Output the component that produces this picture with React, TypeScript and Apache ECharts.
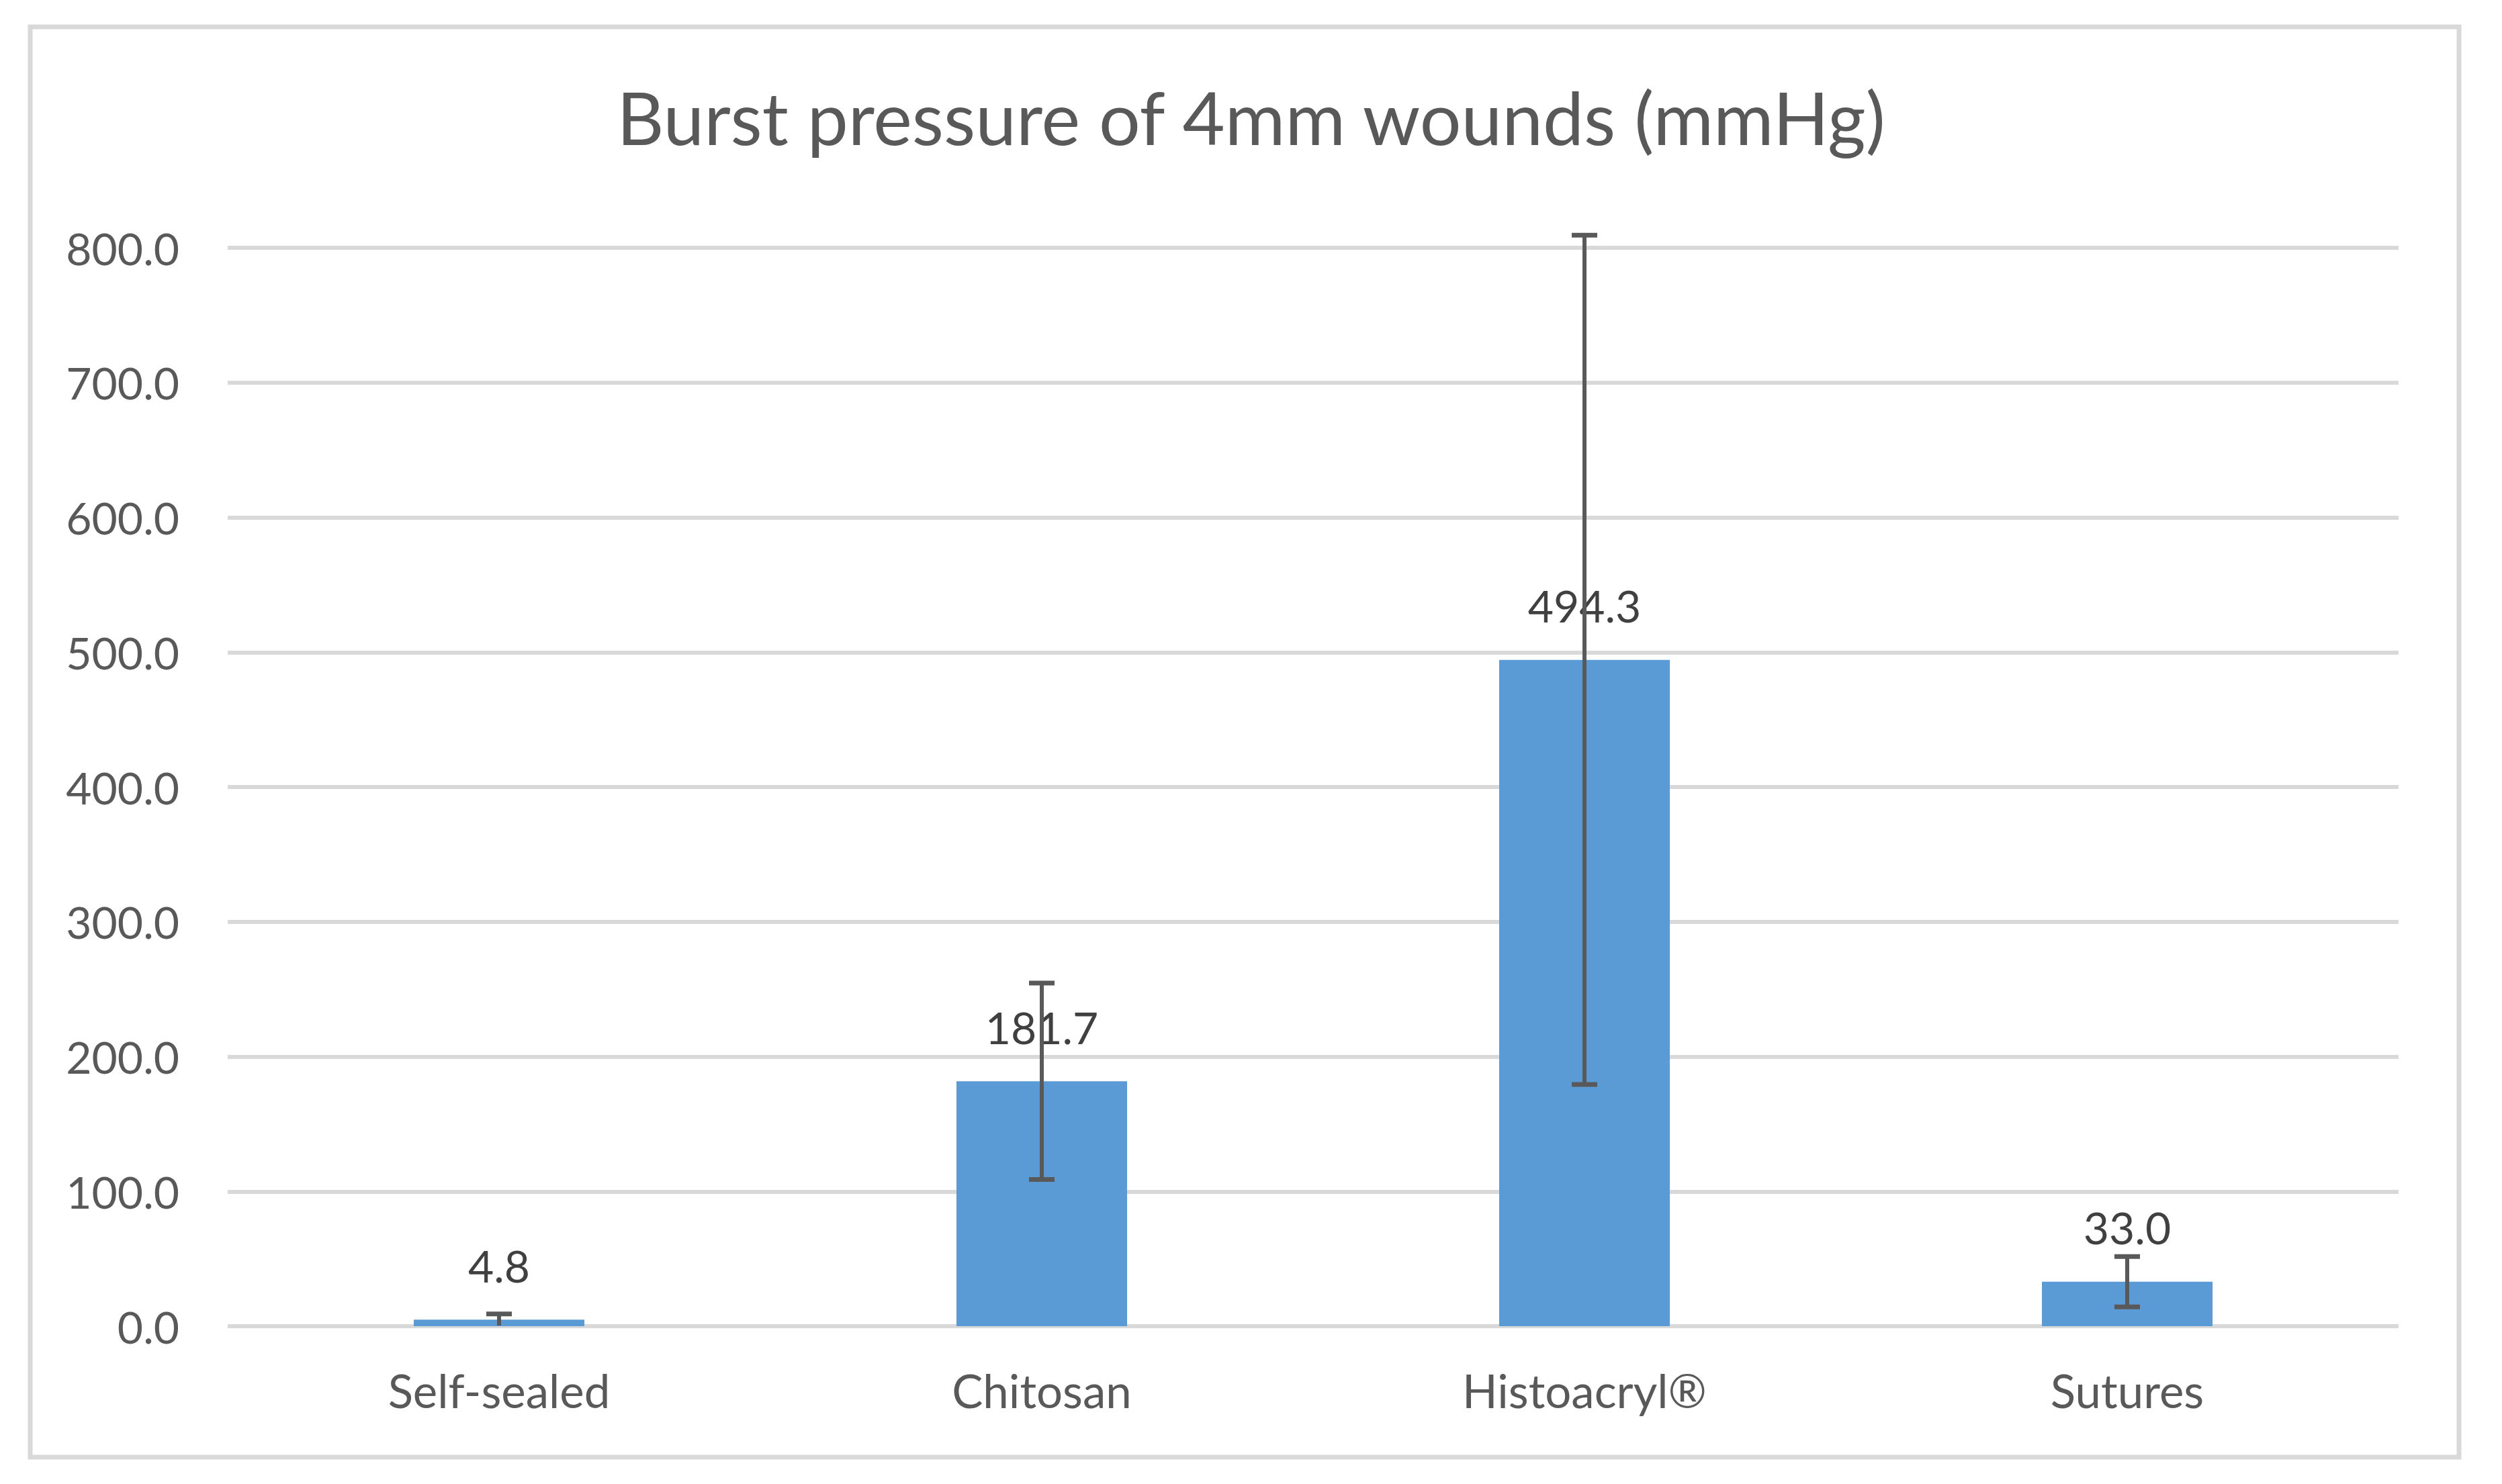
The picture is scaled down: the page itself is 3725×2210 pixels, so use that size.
import React, { useEffect, useRef } from "react";
import * as echarts from "echarts";

const categories = ["Self-sealed", "Chitosan", "Histoacryl®", "Sutures"];
const means = [4.8, 181.7, 494.3, 33.0];
const errors = [4.3, 72.8, 315.0, 18.7];
const yTicks = { min: 0, max: 800, interval: 100 };
const titleText = "Burst pressure of 4mm wounds (mmHg)";

export default function App() {
  const ref = useRef<HTMLDivElement>(null);
  useEffect(() => {
    const chart = echarts.init(ref.current!, null, { renderer: "svg" });
    const errData = means.map((m, i) => [i, m - errors[i], m + errors[i]]);
    const font = "Lato";
    chart.setOption({
      animation: false,
      backgroundColor: "#ffffff",
      title: {
        text: titleText,
        left: "center",
        top: 114,
        textStyle: { fontFamily: font, fontSize: 109, fontWeight: "normal", color: "#595959" },
      },
      graphic: [
        {
          type: "rect",
          shape: { x: 45, y: 40, width: 3616, height: 2130 },
          style: { fill: "none", stroke: "#d9d9d9", lineWidth: 7 },
          silent: true,
        },
      ],
      grid: { left: 339, right: 154, top: 369, bottom: 235, containLabel: false },
      xAxis: {
        type: "category",
        data: categories,
        axisLine: { show: false },
        axisTick: { show: false },
        axisLabel: { fontFamily: font, fontSize: 69, color: "#595959", margin: 61 },
      },
      yAxis: {
        type: "value",
        min: yTicks.min,
        max: yTicks.max,
        interval: yTicks.interval,
        axisLine: { show: false },
        axisTick: { show: false },
        splitLine: { lineStyle: { color: "#d9d9d9", width: 6 } },
        axisLabel: {
          fontFamily: font,
          fontSize: 66,
          color: "#595959",
          margin: 72,
          formatter: (v: number) => v.toFixed(1),
        },
      },
      series: [
        {
          type: "bar",
          data: means,
          barWidth: 254,
          z: 2,
          itemStyle: { color: "#5b9bd5" },
          label: {
            show: true,
            position: "top",
            distance: 48,
            fontFamily: font,
            fontSize: 66,
            color: "#404040",
            formatter: (p: any) => Number(p.value).toFixed(1),
          },
        },
        {
          type: "custom",
          z: 10,
          data: errData,
          renderItem: (params: any, api: any) => {
            const x = api.value(0);
            const loVal = Math.max(0, api.value(1));
            const lo = api.coord([x, loVal]);
            const hi = api.coord([x, api.value(2)]);
            const hw = 19;
            const style = { stroke: "#595959", lineWidth: 6 };
            const capStyle = { stroke: "#595959", lineWidth: 7 };
            const children: any[] = [
              { type: "line", shape: { x1: hi[0], y1: hi[1], x2: lo[0], y2: lo[1] }, style },
              { type: "line", shape: { x1: hi[0] - hw, y1: hi[1], x2: hi[0] + hw, y2: hi[1] }, style: capStyle },
            ];
            if (loVal > 2) {
              children.push({
                type: "line",
                shape: { x1: lo[0] - hw, y1: lo[1], x2: lo[0] + hw, y2: lo[1] },
                style: capStyle,
              });
            }
            return { type: "group", children };
          },
        },
      ],
    });
    return () => chart.dispose();
  }, []);
  return (
    <div
      ref={ref}
      style={{ position: "absolute", left: 0, top: 0, width: 3725, height: 2210 }}
    />
  );
}
